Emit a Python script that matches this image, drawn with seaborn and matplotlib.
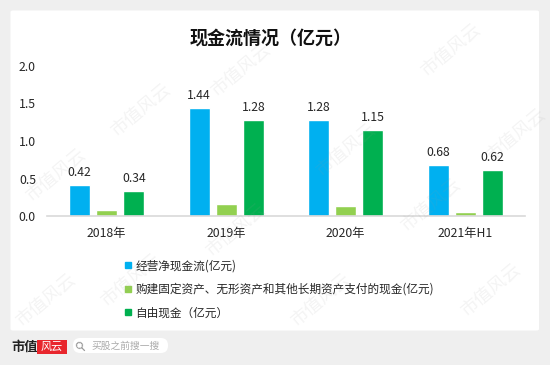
"""Cash flow overview grouped bar chart (市值风云 style)."""

import matplotlib

matplotlib.use("Agg")
import matplotlib.pyplot as plt
import numpy as np
import pandas as pd
import seaborn as sns
from matplotlib.lines import Line2D
from matplotlib.patches import FancyBboxPatch

PERIODS = ["2018年", "2019年", "2020年", "2021年H1"]
OPERATING_CF = [0.42, 1.44, 1.28, 0.68]
CAPEX = [0.08, 0.16, 0.13, 0.06]
FREE_CF = [0.34, 1.28, 1.15, 0.62]
SERIES = [
    "经营净现金流(亿元)",
    "购建固定资产、无形资产和其他长期资产支付的现金(亿元)",
    "自由现金（亿元）",
]
COLORS = ["#00B0F0", "#92D050", "#00B050"]
Y_TICKS = [0.0, 0.5, 1.0, 1.5, 2.0]

W, H = 550, 365


def fx(px):
    return px / W


def fy(py):
    return 1 - py / H


def main() -> None:
    sns.set_style("white")
    plt.rcParams["font.family"] = ["Noto Sans CJK SC", "DejaVu Sans"]

    df = pd.DataFrame(
        {
            "period": PERIODS * 3,
            "series": np.repeat(SERIES, len(PERIODS)),
            "value": OPERATING_CF + CAPEX + FREE_CF,
        }
    )

    fig = plt.figure(figsize=(5.5, 3.65), dpi=100)
    fig.patch.set_facecolor("#efefef")
    fig.patches.append(
        FancyBboxPatch(
            (fx(10.5), fy(330.5)),
            fx(528.5),
            320 / H,
            boxstyle="round,pad=0,rounding_size=0.004",
            transform=fig.transFigure,
            facecolor="white",
            edgecolor="none",
            zorder=-5,
        )
    )

    ax = fig.add_axes([fx(47), fy(216), fx(525 - 47), 150 / H])
    ax.set_zorder(1)
    ax.set_facecolor("none")
    sns.barplot(
        data=df,
        x="period",
        y="value",
        hue="series",
        palette=COLORS,
        saturation=1,
        width=0.678,
        gap=0.222,
        legend=False,
        ax=ax,
    )
    for idx in (0, 2):
        ax.bar_label(ax.containers[idx], fmt="%.2f", padding=4, fontsize=8.8, color="#262626")

    ax.set_ylim(0, 2.0)
    ax.set_xlim(-0.5, 3.5)
    ax.set_yticks(Y_TICKS)
    ax.set_yticklabels([f"{t:.1f}" for t in Y_TICKS])
    ax.set_xlabel("")
    ax.set_ylabel("")
    for side in ("top", "right", "left"):
        ax.spines[side].set_visible(False)
    ax.spines["bottom"].set_color("#d9d9d9")
    ax.spines["bottom"].set_linewidth(1.2)
    ax.tick_params(axis="y", length=0, pad=8, labelsize=8.8, labelcolor="#262626")
    ax.tick_params(axis="x", length=0, pad=8, labelsize=8.8, labelcolor="#262626")

    fig.text(fx(271), fy(38.5), "现金流情况（亿元）", fontsize=13, fontweight="bold",
             ha="center", va="center", color="#111111")

    handles = [
        Line2D([0], [0], marker="s", color="w", markerfacecolor=c, markeredgecolor=c,
               markersize=5, label=s)
        for s, c in zip(SERIES, COLORS)
    ]
    leg = fig.legend(
        handles=handles,
        loc="upper left",
        bbox_to_anchor=(fx(117), fy(253.5)),
        frameon=False,
        fontsize=8.4,
        handlelength=0.8,
        handletextpad=0.25,
        labelspacing=0.9,
        borderpad=0,
        labelcolor="#262626",
    )
    leg.set_zorder(2)

    # watermarks, drawn faintly over everything
    marks = [
        (55, 175), (240, 70), (450, 50), (140, 110), (345, 150), (515, 135),
        (45, 300), (235, 230), (430, 205), (130, 280), (320, 300), (490, 290),
    ]
    for x, y in marks:
        fig.text(fx(x), fy(y), "市值风云", rotation=40, fontsize=13, color="#9a9a9a",
                 alpha=0.11, ha="center", va="center", zorder=5)

    # footer branding
    fig.text(fx(11), fy(347), "市值", fontsize=9.5, fontweight="bold", color="#222222",
             ha="left", va="center")
    fig.patches.append(
        FancyBboxPatch((fx(37), fy(354)), fx(30), 14 / H, boxstyle="square,pad=0",
                       transform=fig.transFigure, facecolor="#e8262d", edgecolor="none")
    )
    fig.text(fx(52), fy(347), "风云", fontsize=8, color="white",
             ha="center", va="center")
    fig.patches.append(
        FancyBboxPatch((fx(73), fy(353)), fx(95), 15 / H,
                       boxstyle="round,pad=0,rounding_size=0.013",
                       transform=fig.transFigure, facecolor="white", edgecolor="none",
                       mutation_aspect=W / H)
    )
    fig.text(fx(81), fy(346), "⚲", fontsize=9, color="#999999", ha="center", va="center",
             family=["DejaVu Sans"], rotation=45)
    fig.text(fx(91), fy(346), "买股之前搜一搜", fontsize=7, color="#aaaaaa",
             ha="left", va="center")

    fig.savefig("out.png", dpi=100, facecolor=fig.get_facecolor())


if __name__ == "__main__":
    main()
